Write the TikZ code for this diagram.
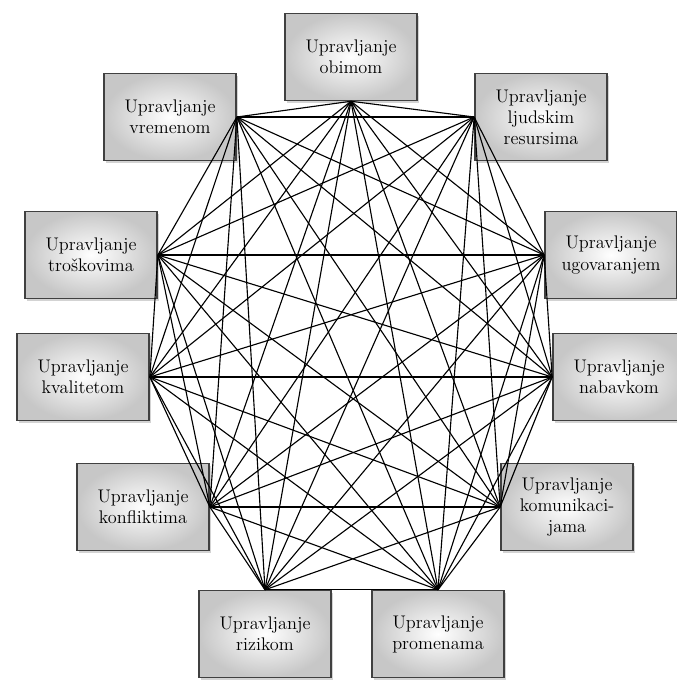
\documentclass[tikz,border=0pt]{standalone}
\usetikzlibrary{shadows}
\tikzset{oblast/.style={draw=black!75,line width=1.2pt,inner color=white,outer color=black!22,
	minimum width=3.3cm,minimum height=2.17cm,align=center,
	font=\fontsize{13}{15}\selectfont,
	drop shadow={shadow xshift=1.5pt,shadow yshift=-1.5pt,opacity=.35}},
	veza/.style={line width=0.8pt,black}}
\begin{document}
\begin{tikzpicture}[x=0.025cm,y=-0.025cm]
\useasboundingbox (0,0) rectangle (676,682);
\node[oblast] (obim) at (351,57) {Upravljanje\\obimom};
\node[oblast] (ljud) at (541,117) {Upravljanje\\ljudskim\\resursima};
\node[oblast] (ugov) at (611,255) {Upravljanje\\ugovaranjem};
\node[oblast] (nabav) at (619,377) {Upravljanje\\nabavkom};
\node[oblast] (komun) at (567,507) {Upravljanje\\komunikaci-\\jama};
\node[oblast] (promen) at (438,634) {Upravljanje\\promenama};
\node[oblast] (rizik) at (265,634) {Upravljanje\\rizikom};
\node[oblast] (konfl) at (143,507) {Upravljanje\\konfliktima};
\node[oblast] (kvalit) at (83,377) {Upravljanje\\kvalitetom};
\node[oblast] (trosk) at (91,255) {Upravljanje\\troškovima};
\node[oblast] (vrem) at (170,117) {Upravljanje\\vremenom};
% tacke spajanja
\coordinate (k1) at (obim.south);
\coordinate (k2) at (ljud.west);
\coordinate (k3) at (ugov.west);
\coordinate (k4) at (nabav.west);
\coordinate (k5) at (komun.west);
\coordinate (k6) at (promen.north);
\coordinate (k7) at (rizik.north);
\coordinate (k8) at (konfl.east);
\coordinate (k9) at (kvalit.east);
\coordinate (k10) at (trosk.east);
\coordinate (k11) at (vrem.east);
\foreach \i in {1,...,10}{
	\pgfmathtruncatemacro\s{\i+1}
	\foreach \j in {\s,...,11} \draw[veza] (k\i) -- (k\j);
}
\end{tikzpicture}
\end{document}
